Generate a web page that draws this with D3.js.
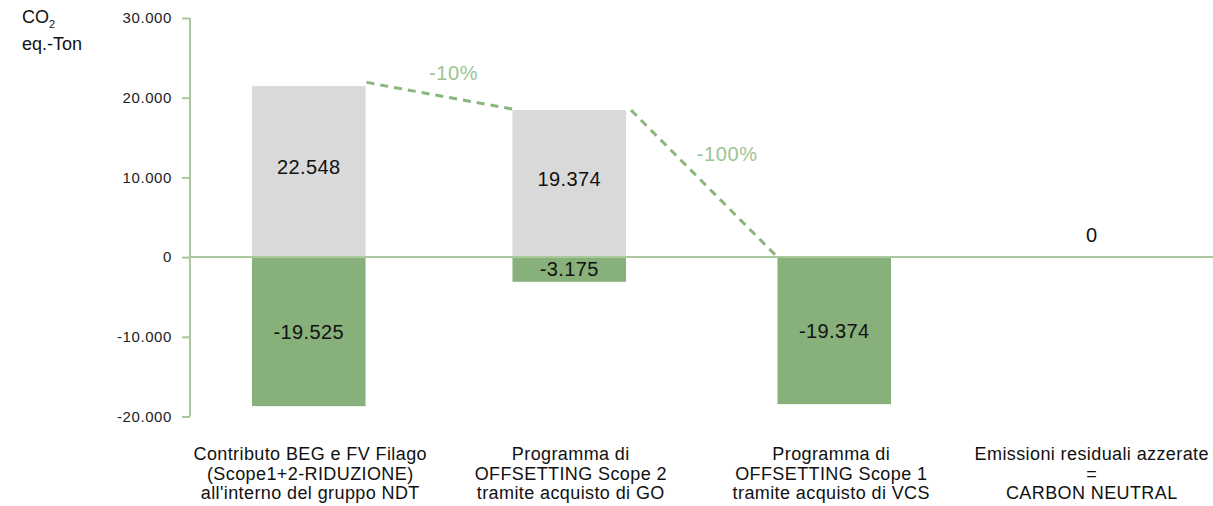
<!DOCTYPE html>
<html>
<head>
<meta charset="utf-8">
<script src="https://cdn.jsdelivr.net/npm/d3@7"></script>
<style>
  html, body { margin: 0; padding: 0; background: #fff; }
  svg { display: block; font-family: "Liberation Sans", Arial, sans-serif; }
</style>
</head>
<body>
<svg id="chart" width="1213" height="506"></svg>
<script>
// ---- data ----
const categories = ["c1", "c2", "c3", "c4"];
const categoryLabels = [
  ["Contributo BEG e FV Filago", "(Scope1+2-RIDUZIONE)", "all'interno del gruppo NDT"],
  ["Programma di", "OFFSETTING Scope 2", "tramite acquisto di GO"],
  ["Programma di", "OFFSETTING Scope 1", "tramite acquisto di VCS"],
  ["Emissioni residuali azzerate", "=", "CARBON NEUTRAL"]
];
const grossValues = [21450, 18450, 0, 0];          // grey bars (as drawn)
const reductionValues = [-18700, -3100, -18450, 0]; // green bars (as drawn)
const grossLabels = ["22.548", "19.374", "", ""];
const reductionLabels = ["-19.525", "-3.175", "-19.374", "0"];
const tickValues = [-20000, -10000, 0, 10000, 20000, 30000];
const tickLabels = ["-20.000", "-10.000", "0", "10.000", "20.000", "30.000"];
const connectorFrom = [0, 1];
const connectorTo = [1, 2];
const connectorStart = [21920, 18444];
const connectorEnd = [18570, 0];
const connectorLabels = ["-10%", "-100%"];

// ---- layout ----
const svg = d3.select("#chart");
const axisX = 190;
const y = d3.scaleLinear().domain([-20000, 30000]).range([416.5, 18]);
const x = d3.scaleBand().domain(categories).range([180, 1222]).padding(0);
const barW = x.bandwidth() * 0.436;
const barShift = [-1.5, -1.5, 3, 0];
const barX = (c, i) => x(c) + (x.bandwidth() - barW) / 2 + barShift[i];

const grey = "#d9d9d9", green = "#88b07a", axisCol = "#a9c89c", dashCol = "#8ab57d", pctCol = "#9dc490";

// grey bars
svg.append("g").selectAll("rect").data(categories).join("rect")
  .attr("x", (c, i) => barX(c, i))
  .attr("width", barW)
  .attr("y", (c, i) => y(Math.max(0, grossValues[i])))
  .attr("height", (c, i) => Math.abs(y(grossValues[i]) - y(0)))
  .attr("fill", grey);

// green bars
svg.append("g").selectAll("rect").data(categories).join("rect")
  .attr("x", (c, i) => barX(c, i))
  .attr("width", barW)
  .attr("y", y(0))
  .attr("height", (c, i) => Math.abs(y(reductionValues[i]) - y(0)))
  .attr("fill", green);

// y axis
const axis = d3.axisLeft(y).tickValues(tickValues)
  .tickFormat((d, i) => tickLabels[i]).tickSize(8).tickPadding(10);
const gAxis = svg.append("g").attr("transform", `translate(${axisX},0)`).call(axis);
gAxis.select(".domain").attr("stroke", axisCol).attr("stroke-width", 2).attr("d", `M0,${y(30000)}V${y(-20000)}`);
gAxis.selectAll(".tick line").attr("stroke", axisCol).attr("stroke-width", 2);
gAxis.selectAll(".tick text").attr("fill", "#222").style("font-size", "15px")
  .style("letter-spacing", "0.6px")
  .style("font-family", "'Liberation Sans', Arial, sans-serif");

// zero line
svg.append("line").attr("x1", axisX).attr("x2", 1213)
  .attr("y1", y(0)).attr("y2", y(0))
  .attr("stroke", axisCol).attr("stroke-width", 2);

// connectors
connectorFrom.forEach((f, i) => {
  const t = connectorTo[i];
  const x1 = barX(categories[f], f) + barW + (i === 0 ? 1 : 5);
  const x2 = barX(categories[t], t);
  const y1 = y(connectorStart[i]), y2 = y(connectorEnd[i]);
  svg.append("line").attr("x1", x1).attr("y1", y1).attr("x2", x2).attr("y2", y2)
    .attr("stroke", dashCol).attr("stroke-width", 3).attr("stroke-dasharray", "8,6");
  const offs = [[14, -23], [23, -30]][i];
  svg.append("text").attr("x", (x1 + x2) / 2 + offs[0]).attr("y", (y1 + y2) / 2 + offs[1])
    .attr("text-anchor", "middle").attr("dominant-baseline", "central")
    .attr("fill", pctCol).style("font-size", "20px").style("letter-spacing", "0.6px")
    .text(connectorLabels[i]);
});

// value labels
const cx = (c, i) => barX(c, i) + barW / 2;
const lx = c => x(c) + x.bandwidth() / 2;
svg.append("g").selectAll("text").data(categories).join("text")
  .attr("x", (c, i) => cx(c, i))
  .attr("y", (c, i) => (y(grossValues[i]) + y(0)) / 2 - 5)
  .attr("text-anchor", "middle").attr("dominant-baseline", "central")
  .attr("fill", "#111").style("font-size", "20px").style("letter-spacing", "0.4px")
  .text((c, i) => grossLabels[i]);
svg.append("g").selectAll("text").data(categories).join("text")
  .attr("x", (c, i) => cx(c, i))
  .attr("y", (c, i) => reductionValues[i] === 0 ? y(0) - 22 : (y(reductionValues[i]) + y(0)) / 2)
  .attr("text-anchor", "middle").attr("dominant-baseline", "central")
  .attr("fill", "#111").style("font-size", "20px").style("letter-spacing", "0.4px")
  .text((c, i) => reductionLabels[i]);

// category labels
categories.forEach((c, i) => {
  const t = svg.append("text").attr("x", lx(c)).attr("y", 453)
    .attr("text-anchor", "middle").attr("fill", "#111")
    .style("font-size", "18px").style("letter-spacing", "0.4px");
  categoryLabels[i].forEach((line, j) => {
    t.append("tspan").attr("x", lx(c)).attr("y", 454 + j * 19.5)
      .attr("dominant-baseline", "central").text(line);
  });
});

// unit label
const unit = svg.append("text").attr("x", 22).attr("y", 17).attr("dominant-baseline", "central")
  .attr("fill", "#111").style("font-size", "18px");
unit.append("tspan").text("CO");
unit.append("tspan").attr("dy", 7).style("font-size", "11px").text("2");
svg.append("text").attr("x", 22).attr("y", 44).attr("dominant-baseline", "central")
  .attr("fill", "#111").style("font-size", "18px").text("eq.-Ton");
</script>
</body>
</html>
